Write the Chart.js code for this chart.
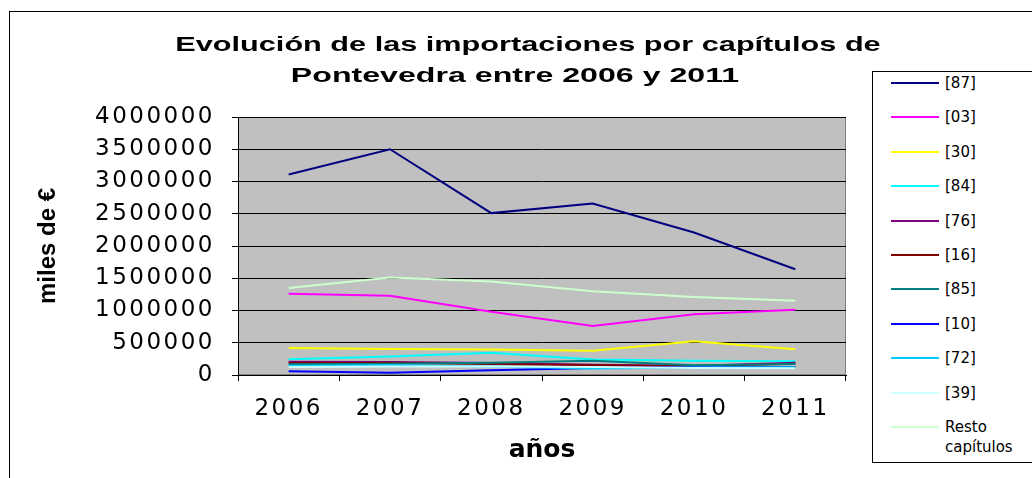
<!DOCTYPE html>
<html>
<head>
<meta charset="utf-8">
<script src="https://cdn.jsdelivr.net/npm/chart.js@4"></script>
<style>
  html, body { margin: 0; padding: 0; background: #fff; }
  body { width: 1032px; height: 478px; position: relative; overflow: hidden; font-family: "Liberation Sans", Arial, sans-serif; }
  #frame { position: absolute; left: 9px; top: 11px; width: 1040px; height: 480px; border: 1px solid #000; box-sizing: border-box; }
  canvas { position: absolute; left: 0; top: 0; }
  .title { position: absolute; font-weight: bold; font-size: 21px; line-height: 24px; white-space: nowrap; transform: translateX(-50%) scaleX(1.46); }
  #legend { position: absolute; left: 872px; top: 71px; width: 180px; height: 392px; border: 1px solid #000; box-sizing: border-box; background: #fff; }
  .item { position: absolute; left: 0; width: 170px; font-family: "DejaVu Sans", sans-serif; font-size: 15px; line-height: 20px; color: #000; }
  .swatch { position: absolute; left: 18px; width: 48px; height: 2px; top: 9px; }
  .label { position: absolute; left: 72px; top: 0; width: 85px; }
</style>
</head>
<body>
<div id="frame"></div>
<canvas id="chart" width="1032" height="478"></canvas>
<div class="title" style="left:528px; top:32px;">Evolución de las importaciones por capítulos de</div>
<div class="title" style="left:515px; top:63px; transform: translateX(-50%) scaleX(1.53);">Pontevedra entre 2006 y 2011</div>
<div id="legend"></div>
<script>
// años (categorías)
const years = ['2006', '2007', '2008', '2009', '2010', '2011'];
const yTickValues = [0, 500000, 1000000, 1500000, 2000000, 2500000, 3000000, 3500000, 4000000];

// capítulos y colores
const seriesNames = ['[87]', '[03]', '[30]', '[84]', '[76]', '[16]', '[85]', '[10]', '[72]', '[39]', 'Resto capítulos'];
const seriesColors = ['#000080', '#ff00ff', '#ffff00', '#00ffff', '#800080', '#800000', '#008080', '#0000ff', '#00ccff', '#ccffff', '#ccffcc'];

// valores en miles de €
const cap87 = [3110000, 3500000, 2510000, 2660000, 2210000, 1640000];
const cap03 = [1260000, 1230000, 980000, 760000, 940000, 1010000];
const cap30 = [420000, 405000, 395000, 375000, 525000, 400000];
const cap84 = [245000, 285000, 345000, 240000, 220000, 215000];
const cap76 = [205000, 200000, 185000, 160000, 140000, 190000];
const cap16 = [185000, 190000, 170000, 150000, 140000, 175000];
const cap85 = [165000, 175000, 190000, 220000, 150000, 170000];
const cap10 = [60000, 35000, 75000, 110000, 120000, 125000];
const cap72 = [145000, 150000, 130000, 100000, 115000, 120000];
const cap39 = [125000, 130000, 130000, 125000, 110000, 105000];
const resto = [1350000, 1510000, 1450000, 1300000, 1210000, 1150000];

const seriesValues = [cap87, cap03, cap30, cap84, cap76, cap16, cap85, cap10, cap72, cap39, resto];

// fondo gris del área de trazado + espaciado de las etiquetas de los ejes
const plotBackground = {
  id: 'plotBackground',
  beforeDraw(chart) {
    const {ctx, chartArea: a} = chart;
    ctx.save();
    ctx.fillStyle = '#c0c0c0';
    ctx.fillRect(a.left, a.top, a.right - a.left, a.bottom - a.top);
    ctx.strokeStyle = '#808080';
    ctx.lineWidth = 1;
    ctx.strokeRect(a.left + 0.5, a.top + 0.5, a.right - a.left - 1, a.bottom - a.top - 1);
    ctx.restore();
  },
  afterDatasetsDraw(chart) {
    chart.ctx.letterSpacing = '2.5px';
  },
  afterDraw(chart) {
    chart.ctx.letterSpacing = '0px';
  }
};

const tickFont = {family: 'DejaVu Sans', size: 23};

const chart = new Chart(document.getElementById('chart').getContext('2d'), {
  type: 'line',
  data: {
    labels: years,
    datasets: seriesNames.map((name, i) => ({
      label: name,
      data: seriesValues[i],
      borderColor: seriesColors[i],
      backgroundColor: seriesColors[i],
      borderWidth: 2,
      pointRadius: 0,
      tension: 0,
      fill: false,
      order: -i
    }))
  },
  options: {
    responsive: false,
    animation: false,
    layout: {padding: {left: 0, top: 117, right: 186, bottom: 0}},
    plugins: {
      legend: {display: false},
      title: {display: false},
      tooltip: {enabled: false}
    },
    scales: {
      x: {
        offset: true,
        grid: {display: true, drawOnChartArea: false, drawTicks: true, tickLength: 6, offset: true, color: '#000'},
        border: {display: true, color: '#000', width: 1},
        ticks: {font: tickFont, color: '#000', padding: 14, maxRotation: 0, autoSkip: false, z: 1},
        title: {display: true, text: 'años', color: '#000',
                font: {family: 'DejaVu Sans', size: 25, weight: 'bold'}, padding: {top: 0, bottom: 13}},
        afterFit(scale) { scale.height = 103; }
      },
      y: {
        min: 0,
        max: 4000000,
        afterBuildTicks(scale) { scale.ticks = yTickValues.map(v => ({value: v})); },
        grid: {color: '#000', lineWidth: 1, drawTicks: true, tickLength: 6},
        border: {display: true, color: '#000', width: 1},
        ticks: {font: tickFont, color: '#000', padding: 17, z: 1, callback: v => String(v)},
        title: {display: true, text: 'miles de €', color: '#000',
                font: {family: 'Liberation Sans', size: 24, weight: 'bold'}, padding: {top: 34, bottom: 0}},
        afterFit(scale) { scale.width = 238; }
      }
    }
  },
  plugins: [plotBackground]
});

// leyenda a partir de los datasets
const legend = document.getElementById('legend');
chart.data.datasets.forEach((ds, i) => {
  const item = document.createElement('div');
  item.className = 'item';
  item.style.top = (1 + i * 34.4) + 'px';
  const sw = document.createElement('div');
  sw.className = 'swatch';
  sw.style.background = ds.borderColor;
  const lb = document.createElement('div');
  lb.className = 'label';
  lb.textContent = ds.label;
  item.appendChild(sw);
  item.appendChild(lb);
  legend.appendChild(item);
});
</script>
</body>
</html>
